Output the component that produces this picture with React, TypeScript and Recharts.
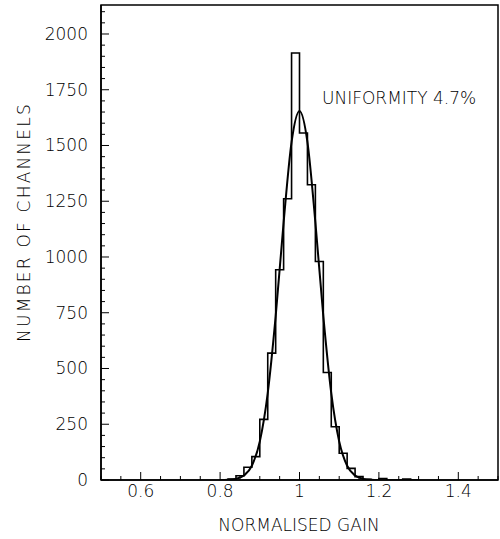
import {
  ComposedChart,
  Line,
  XAxis,
  YAxis,
  ReferenceArea,
  Customized,
} from "recharts";

// Histogram: left edge of each 0.02-wide bin and the number of channels in it
const binStart = [
  0.8, 0.82, 0.84, 0.86, 0.88, 0.9, 0.92, 0.94, 0.96, 0.98, 1.0, 1.02, 1.04,
  1.06, 1.08, 1.1, 1.12, 1.14, 1.16, 1.18, 1.2, 1.22, 1.24, 1.26, 1.28, 1.3,
];
const channelCounts = [
  0, 4, 19, 57, 105, 272, 569, 943, 1261, 1915, 1556, 1324, 980, 482, 239, 120,
  52, 15, 3, 0, 6, 0, 0, 4, 0, 0,
];

// Gaussian fit drawn over the histogram
const fitGain = [
  0.8, 0.82, 0.84, 0.86, 0.88, 0.9, 0.92, 0.94, 0.96, 0.98, 1.0, 1.02, 1.04,
  1.06, 1.08, 1.1, 1.12, 1.14, 1.16, 1.18, 1.2,
];
const fitCounts = [
  0, 1, 5, 20, 64, 173, 390, 735, 1155, 1515, 1655, 1515, 1155, 735, 390, 173,
  64, 20, 5, 1, 0,
];

// Axis ticks (labelled ones plus the small unlabelled ones between them)
const xMajorTicks = [0.6, 0.8, 1.0, 1.2, 1.4];
const xTickLabels = ["0.6", "0.8", "1", "1.2", "1.4"];
const xMinorStep = 0.05;
const yMajorTicks = [0, 250, 500, 750, 1000, 1250, 1500, 1750, 2000];
const yMinorStep = 50;

const X_MIN = 0.5;
const X_MAX = 1.5;
const Y_MAX = 2130;
const FONT = "'DejaVu Sans', sans-serif";
const WEIGHT = 200;
const INK = "#000";

const histData = binStart.map((g, i) => ({ gain: g, count: channelCounts[i] }));
const fitData = fitGain.map((g, i) => ({ gain: g, count: fitCounts[i] }));

const xTicks: number[] = [];
for (let k = 0; X_MIN + k * xMinorStep <= X_MAX + 1e-9; k++) {
  xTicks.push(Math.round((X_MIN + k * xMinorStep) * 100) / 100);
}
const yTicks: number[] = [];
for (let v = 0; v <= 2100; v += yMinorStep) yTicks.push(v);

const XTick = (props: any) => {
  const { x, y, payload } = props;
  const idx = xMajorTicks.findIndex((t) => Math.abs(t - payload.value) < 1e-6);
  const major = idx >= 0;
  return (
    <g>
      <line x1={x} y1={y} x2={x} y2={y - (major ? 8 : 4)} stroke={INK} strokeWidth={1} />
      {major && (
        <text
          x={x}
          y={y + 17}
          textAnchor="middle"
          fontSize={17}
          fontFamily={FONT}
          fontWeight={WEIGHT}
          fill={INK}
        >
          {xTickLabels[idx]}
        </text>
      )}
    </g>
  );
};

const YTick = (props: any) => {
  const { x, y, payload } = props;
  const major = yMajorTicks.includes(payload.value);
  return (
    <g>
      <line x1={x} y1={y} x2={x + (major ? 8 : 4)} y2={y} stroke={INK} strokeWidth={1} />
      {major && (
        <text
          x={x - 13}
          y={y + 6}
          textAnchor="end"
          fontSize={17}
          fontFamily={FONT}
          fontWeight={WEIGHT}
          fill={INK}
        >
          {payload.value}
        </text>
      )}
    </g>
  );
};

const Titles = () => (
  <g fontFamily={FONT} fontWeight={WEIGHT} fill={INK}>
    <text x={299} y={531} textAnchor="middle" fontSize={17}>
      NORMALISED GAIN
    </text>
    <text
      x={30}
      y={222}
      textAnchor="middle"
      fontSize={17}
      letterSpacing={2.2}
      transform="rotate(-90 30 222)"
    >
      NUMBER OF CHANNELS
    </text>
    <text x={322} y={104} fontSize={17}>
      UNIFORMITY 4.7%
    </text>
  </g>
);

export default function App() {
  return (
    <div
      style={{
        position: "absolute",
        left: 0,
        top: 0,
        width: 500,
        height: 539,
        background: "#fff",
      }}
    >
      <ComposedChart
        width={500}
        height={539}
        margin={{ top: 5, right: 2, bottom: 0, left: 0 }}
      >
        <XAxis
          dataKey="gain"
          type="number"
          domain={[X_MIN, X_MAX]}
          ticks={xTicks}
          interval={0}
          allowDataOverflow
          height={59}
          tickSize={0}
          tickMargin={0}
          tickLine={false}
          tick={<XTick />}
          axisLine={{ stroke: INK, strokeWidth: 1.5 }}
        />
        <YAxis
          type="number"
          domain={[0, Y_MAX]}
          ticks={yTicks}
          interval={0}
          allowDataOverflow
          width={101}
          tickSize={0}
          tickMargin={0}
          tickLine={false}
          tick={<YTick />}
          axisLine={{ stroke: INK, strokeWidth: 1.5 }}
        />
        <ReferenceArea
          x1={X_MIN}
          x2={X_MAX}
          y1={0}
          y2={Y_MAX}
          fill="none"
          stroke={INK}
          strokeWidth={1.5}
          fillOpacity={0}
        />
        <Line
          data={histData}
          dataKey="count"
          type="stepAfter"
          stroke={INK}
          strokeWidth={1.6}
          dot={false}
          activeDot={false}
          isAnimationActive={false}
        />
        <Line
          data={fitData}
          dataKey="count"
          type="monotone"
          stroke={INK}
          strokeWidth={2}
          dot={false}
          activeDot={false}
          isAnimationActive={false}
        />
        <Customized component={Titles} />
      </ComposedChart>
    </div>
  );
}
